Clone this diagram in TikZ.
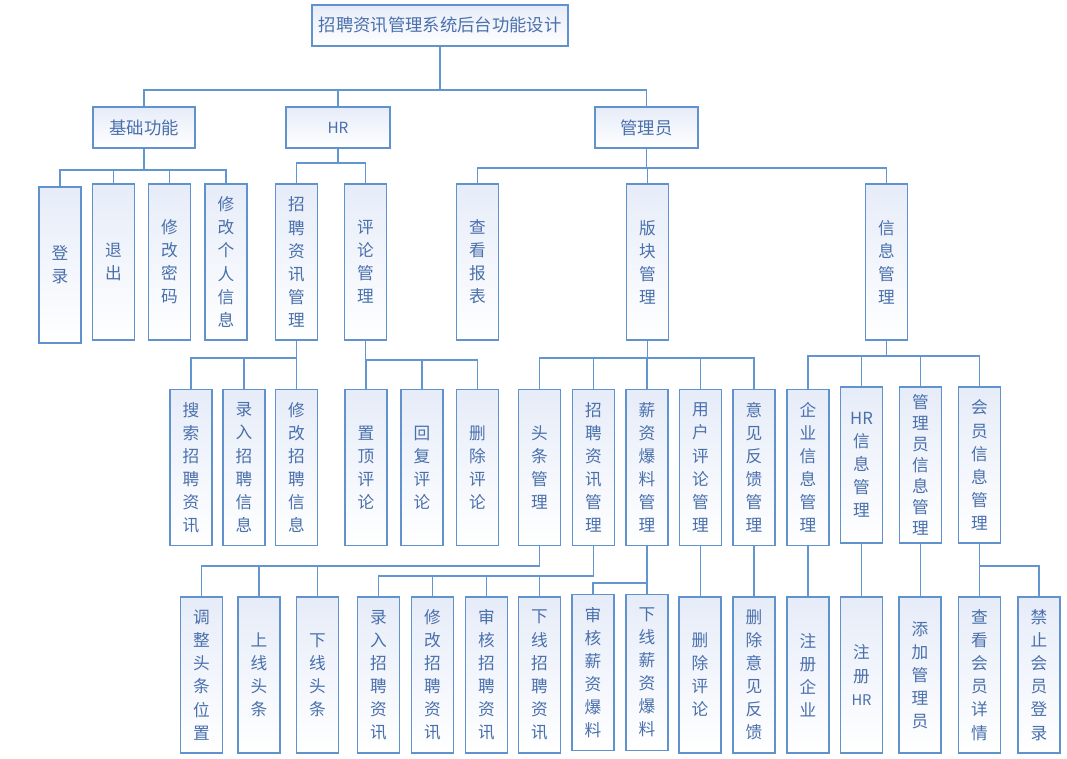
\documentclass[tikz,border=0pt]{standalone}
\usepackage{fontspec}
\setmainfont{Noto Sans CJK SC}
\usetikzlibrary{shadings}
\definecolor{bordc}{RGB}{96,146,206}
\definecolor{linec}{RGB}{98,150,208}
\definecolor{txtc}{RGB}{74,112,172}
\definecolor{topc}{RGB}{230,236,248}
\begin{document}
\begin{tikzpicture}[x=0.75pt,y=-0.75pt,
  box/.style={draw=bordc, line width=0.9pt, top color=topc, bottom color=white, text=txtc, inner sep=0pt, align=center, font=\fontsize{12.5}{17.3}\selectfont},
  hbox/.style={box, minimum height=30.75pt},
  vbox/.style={box, minimum width=31.5pt, minimum height=117pt},
  tight/.style={font=\fontsize{12.5}{15.8}\selectfont},
  conn/.style={draw=linec, line width=0.9pt}]
\useasboundingbox (0,0) rectangle (1067,758);
% level 0 and 1
\node[hbox, minimum width=192pt, font=\fontsize{13}{16}\selectfont] (t) at (440,25.5) {招聘资讯管理系统后台功能设计};
\node[hbox, minimum width=76.5pt, font=\fontsize{13}{16}\selectfont] (a) at (144,127.5) {基础功能};
\node[hbox, minimum width=78pt, font=\fontsize{11.5}{14}\selectfont] (b) at (338,127.5) {HR};
\node[hbox, minimum width=77.25pt, font=\fontsize{13}{16}\selectfont] (c) at (646.5,127.5) {管理员};
% level 2
\node[vbox] (a1) at (60,265) {登\\录};
\node[vbox] (a2) at (113.5,262) {退\\出};
\node[vbox] (a3) at (169.5,262) {修\\改\\密\\码};
\node[vbox] (a4) at (226,262) {修\\改\\个\\人\\信\\息};
\node[vbox] (b1) at (296.5,262) {招\\聘\\资\\讯\\管\\理};
\node[vbox] (b2) at (365.5,262) {评\\论\\管\\理};
\node[vbox] (c1) at (477.5,262) {查\\看\\报\\表};
\node[vbox] (c2) at (647.5,262) {版\\块\\管\\理};
\node[vbox] (c3) at (886.5,262) {信\\息\\管\\理};
% level 3
\node[vbox] (b11) at (191,467.5) {搜\\索\\招\\聘\\资\\讯};
\node[vbox] (b12) at (244,467.5) {录\\入\\招\\聘\\信\\息};
\node[vbox] (b13) at (296.5,467.5) {修\\改\\招\\聘\\信\\息};
\node[vbox] (b21) at (366,467.5) {置\\顶\\评\\论};
\node[vbox] (b22) at (422,467.5) {回\\复\\评\\论};
\node[vbox] (b23) at (477.5,467.5) {删\\除\\评\\论};
\node[vbox] (c21) at (539.5,467.5) {头\\条\\管\\理};
\node[vbox] (c22) at (593.5,467.5) {招\\聘\\资\\讯\\管\\理};
\node[vbox] (c23) at (647,467.5) {薪\\资\\爆\\料\\管\\理};
\node[vbox] (c24) at (700.5,467.5) {用\\户\\评\\论\\管\\理};
\node[vbox] (c25) at (754,467.5) {意\\见\\反\\馈\\管\\理};
\node[vbox] (c31) at (808,467.5) {企\\业\\信\\息\\管\\理};
\node[vbox] (c32) at (861.5,465) {HR\\信\\息\\管\\理};
\node[vbox, tight] (c33) at (920.5,465) {管\\理\\员\\信\\息\\管\\理};
\node[vbox] (c34) at (979.5,465) {会\\员\\信\\息\\管\\理};
% level 4
\node[vbox] (d1) at (201.5,675) {调\\整\\头\\条\\位\\置};
\node[vbox] (d2) at (259,675) {上\\线\\头\\条};
\node[vbox] (d3) at (317.5,675) {下\\线\\头\\条};
\node[vbox] (e1) at (378.5,675) {录\\入\\招\\聘\\资\\讯};
\node[vbox] (e2) at (432.5,675) {修\\改\\招\\聘\\资\\讯};
\node[vbox] (e3) at (486.5,675) {审\\核\\招\\聘\\资\\讯};
\node[vbox] (e4) at (539.5,675) {下\\线\\招\\聘\\资\\讯};
\node[vbox] (f1) at (593,672.5) {审\\核\\薪\\资\\爆\\料};
\node[vbox] (f2) at (647,672.5) {下\\线\\薪\\资\\爆\\料};
\node[vbox] (g1) at (700,675) {删\\除\\评\\论};
\node[vbox] (h1) at (754,675) {删\\除\\意\\见\\反\\馈};
\node[vbox] (i1) at (808,675) {注\\册\\企\\业};
\node[vbox] (j1) at (861.5,675) {注\\册\\{\fontsize{11}{14}\selectfont HR}};
\node[vbox] (k1) at (920,675) {添\\加\\管\\理\\员};
\node[vbox] (l1) at (979.5,675) {查\\看\\会\\员\\详\\情};
\node[vbox] (l2) at (1039,675) {禁\\止\\会\\员\\登\\录};
% bus coordinates
\coordinate (yt) at (0,90);
\coordinate (ya) at (0,170);
\coordinate (yb) at (0,163);
\coordinate (yc) at (0,168);
\coordinate (yb1) at (0,358);
\coordinate (yb2) at (0,360);
\coordinate (yc2) at (0,358);
\coordinate (yc3) at (0,356);
\coordinate (yc21) at (0,566);
\coordinate (yc22) at (0,576);
\coordinate (yc23) at (0,583);
\coordinate (yc34) at (0,566);
% connectors
\draw[conn, line width=1.3pt] (t.south) -- (t.south |- yt);
\foreach \n in {a,b,c} \draw[conn] (t.south |- yt) -| (\n.north);
\draw[conn] (a.south) -- (a.south |- ya);
\foreach \n in {a1,a2,a3,a4} \draw[conn] (a.south |- ya) -| (\n.north);
\draw[conn] (b.south) -- (b.south |- yb);
\foreach \n in {b1,b2} \draw[conn] (b.south |- yb) -| (\n.north);
\draw[conn] (c.south) -- (c.south |- yc);
\foreach \n in {c1,c2,c3} \draw[conn] (c.south |- yc) -| (\n.north);
\draw[conn] (b1.south) -- (b1.south |- yb1);
\foreach \n in {b11,b12,b13} \draw[conn] (b1.south |- yb1) -| (\n.north);
\draw[conn] (b2.south) -- (b2.south |- yb2);
\foreach \n in {b21,b22,b23} \draw[conn] (b2.south |- yb2) -| (\n.north);
\draw[conn] (c2.south) -- (c2.south |- yc2);
\foreach \n in {c21,c22,c23,c24,c25} \draw[conn] (c2.south |- yc2) -| (\n.north);
\draw[conn] (c3.south) -- (c3.south |- yc3);
\foreach \n in {c31,c32,c33,c34} \draw[conn] (c3.south |- yc3) -| (\n.north);
\draw[conn] (c21.south) -- (c21.south |- yc21);
\foreach \n in {d1,d2,d3} \draw[conn] (c21.south |- yc21) -| (\n.north);
\draw[conn] (c22.south) -- (c22.south |- yc22);
\foreach \n in {e1,e2,e3,e4} \draw[conn] (c22.south |- yc22) -| (\n.north);
\draw[conn] (c23.south) -- (c23.south |- yc23);
\foreach \n in {f1,f2} \draw[conn] (c23.south |- yc23) -| (\n.north);
\draw[conn] (c24.south) -- (c24.south |- g1.north);
\draw[conn] (c25.south) -- (c25.south |- h1.north);
\draw[conn] (c31.south) -- (c31.south |- i1.north);
\draw[conn] (c32.south) -- (c32.south |- j1.north);
\draw[conn] (c33.south) -- (c33.south |- k1.north);
\draw[conn] (c34.south) -- (c34.south |- yc34);
\foreach \n in {l1,l2} \draw[conn] (c34.south |- yc34) -| (\n.north);
\end{tikzpicture}
\end{document}
